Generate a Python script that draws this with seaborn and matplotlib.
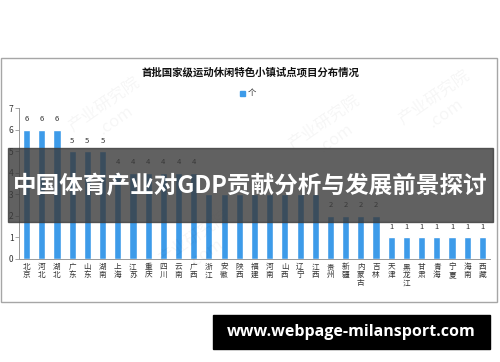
import matplotlib
matplotlib.use("Agg")
import matplotlib.pyplot as plt
import matplotlib.patches as mpatches
import seaborn as sns
import numpy as np
import pandas as pd

provinces = ["北京", "河北", "湖北", "广东", "山东", "湖南", "上海", "江苏", "重庆", "四川",
             "云南", "广西", "浙江", "安徽", "陕西", "福建", "河南", "山西", "辽宁", "江西",
             "贵州", "新疆", "内蒙古", "吉林", "天津", "黑龙江", "甘肃", "青海", "宁夏", "海南", "西藏"]
counts = [6, 6, 6, 5, 5, 5, 4, 4, 4, 4,
          4, 4, 3, 3, 3, 3, 3, 3, 3, 3,
          2, 2, 2, 2, 1, 1, 1, 1, 1, 1, 1]
y_ticks = [0, 1, 2, 3, 4, 5, 6, 7]

chart_title = "首批国家级运动休闲特色小镇试点项目分布情况"
legend_label = "个"
banner_text = "中国体育产业对GDP贡献分析与发展前景探讨"
url_text = "www.webpage-milansport.com"

sns.set_style("white")
plt.rcParams["font.family"] = ["Noto Sans CJK SC", "DejaVu Sans"]

W, H = 500, 362
fig = plt.figure(figsize=(5, 3.62), dpi=100)
fig.patch.set_facecolor("white")

def fx(px):
    return px / W

def fy(py):
    return 1 - py / H

# chart frame
fig.patches.append(mpatches.Rectangle((fx(1), fy(302)), fx(497) - fx(1), fy(58) - fy(302),
                                      transform=fig.transFigure, fill=False,
                                      edgecolor="#a6a6a6", linewidth=1.0, zorder=0))

ax = fig.add_axes([fx(19), fy(259), fx(490) - fx(19), fy(108) - fy(259)])
df = pd.DataFrame({"province": provinces, "count": counts})
bar_color = "#3d9be9"
sns.barplot(data=df, x="province", y="count", color=bar_color, width=0.47,
            saturation=1, ax=ax)

ax.set_ylim(0, 7)
ax.set_xlim(-0.5, len(provinces) - 0.5)
ax.set_yticks(y_ticks)
ax.set_yticklabels([str(v) for v in y_ticks], fontsize=6, color="#333333")
ax.set_xticks(range(len(provinces)))
ax.set_xticklabels(["\n".join(p) for p in provinces], fontsize=5.5,
                   color="#333333", linespacing=1.0, va="top")
ax.set_xticks(np.arange(-0.5, len(provinces), 1), minor=True)
ax.tick_params(axis="x", which="major", length=0, pad=3)
ax.tick_params(axis="x", which="minor", length=3, color="#999999", width=0.6)
ax.tick_params(axis="y", length=3, color="#999999", width=0.6, pad=1, left=True)
ax.set_xlabel("")
ax.set_ylabel("")
for side in ["top", "right"]:
    ax.spines[side].set_visible(False)
for side in ["left", "bottom"]:
    ax.spines[side].set_color("#999999")
    ax.spines[side].set_linewidth(0.7)

# value labels (the banner covers the ones that fall behind it)
for i, v in enumerate(counts):
    if 2.0 < v < 5.5 and v != 5 and v != 4:
        continue
    ax.text(i, v + 0.3, str(v), ha="center", va="bottom", fontsize=5.5, color="#333333")

fig.text(0.5, fy(72), chart_title, ha="center", va="center", fontsize=7.5,
         fontweight="bold", color="#111111")
fig.patches.append(mpatches.Rectangle((fx(240), fy(96)), fx(5), fy(91) - fy(96),
                                      transform=fig.transFigure, color=bar_color))
fig.text(fx(248), fy(93), legend_label, ha="left", va="center", fontsize=6, color="#333333")

# faint watermarks
for x, y in [(fx(110), fy(112)), (fx(330), fy(130)), (fx(440), fy(105)), (fx(200), fy(245))]:
    fig.text(x, y, "产业研究院\n.com", rotation=35, fontsize=12, color="#000000",
             alpha=0.04, ha="center", va="center")

# dark banner
fig.patches.append(mpatches.Rectangle((fx(8), fy(222)), fx(493) - fx(8), fy(148) - fy(222),
                                      transform=fig.transFigure, color="#3a3a3a",
                                      alpha=0.8, zorder=5))
fig.text(0.5, fy(186), banner_text, ha="center", va="center", fontsize=17,
         fontweight="bold", color="white", zorder=6)

# url box
fig.patches.append(mpatches.Rectangle((fx(213), fy(349)), fx(490) - fx(213), fy(315) - fy(349),
                                      transform=fig.transFigure, color="black", zorder=5))
fig.text(fx(351), fy(332), url_text, ha="center", va="center", fontsize=11.5,
         fontweight="bold", color="white", family=["Open Sans", "DejaVu Sans"], zorder=6)

fig.savefig("out.png", dpi=100)
plt.close(fig)
